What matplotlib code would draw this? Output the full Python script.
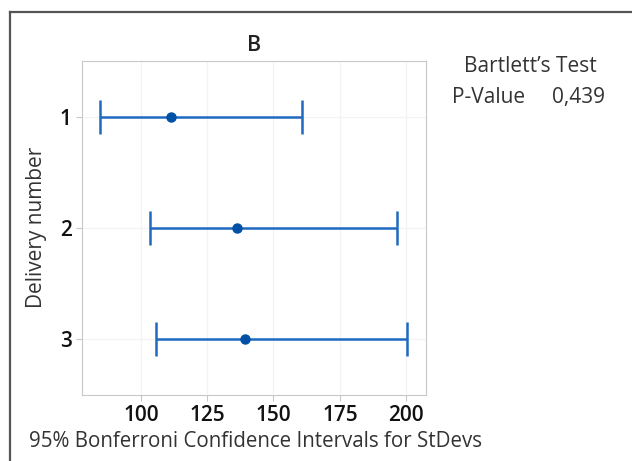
import numpy as np
import matplotlib.pyplot as plt
from matplotlib.lines import Line2D

plt.rcParams['font.family'] = ['Open Sans', 'DejaVu Sans']

# data
groups = ['1', '2', '3']
lower = [84.7, 103.5, 105.6]
center = [111.3, 136.2, 139.3]
upper = [160.7, 196.5, 200.5]
xticks = [100, 125, 150, 175, 200]
p_value = '0,439'

fig = plt.figure(figsize=(6.32, 4.61), dpi=100)
ax = fig.add_axes([82/632, 1-395/461, (426-82)/632, (395-61)/461])

ypos = np.arange(1, len(groups)+1)
lo = np.array(center) - np.array(lower)
hi = np.array(upper) - np.array(center)
ax.errorbar(center, ypos, xerr=[lo, hi], fmt='none', ecolor='#1f69bf',
            elinewidth=1.8, capsize=12, capthick=1.8, zorder=3)
ax.plot(center, ypos, 'o', color='#0051a5', ms=6.5, zorder=4)

ax.set_xlim(77.8, 207.5)
ax.set_ylim(3.5, 0.5)
ax.set_xticks(xticks)
ax.set_yticks(ypos)
ax.set_yticklabels(groups)
ax.grid(True, color='#f3f3f3', lw=0.9)
ax.set_axisbelow(True)
for s in ax.spines.values():
    s.set_color('#c8c8c8')
ax.tick_params(colors='#c8c8c8', labelcolor='#111111', labelsize=15, length=4, width=0.8)
for t in ax.get_xticklabels() + ax.get_yticklabels():
    t.set_fontweight('semibold')

ax.set_title('B', fontsize=15.5, color='#222222', pad=7, fontweight='semibold')
fig.text(29/632, 1-441/461, '95% Bonferroni Confidence Intervals for StDevs',
         fontsize=14.8, color='#333333', va='center', ha='left')
fig.text(37/632, 1-227/461, 'Delivery number', fontsize=15, color='#333333',
         rotation=90, va='center', ha='center')

fig.text(530/632, 1-66/461, 'Bartlett\u2019s Test', fontsize=15, color='#333333',
         ha='center', va='center')
fig.text(452/632, 1-97/461, 'P-Value', fontsize=15, color='#333333', ha='left', va='center')
fig.text(605/632, 1-97/461, p_value, fontsize=15, color='#333333', ha='right', va='center')

# outer frame (only left and top edges visible)
fig.add_artist(Line2D([10/632, 10/632], [0, 1-12/461], color='#555555', lw=1.6,
                      transform=fig.transFigure))
fig.add_artist(Line2D([10/632, 1], [1-12/461, 1-12/461], color='#555555', lw=1.6,
                      transform=fig.transFigure))

fig.savefig('out.png', dpi=100)
